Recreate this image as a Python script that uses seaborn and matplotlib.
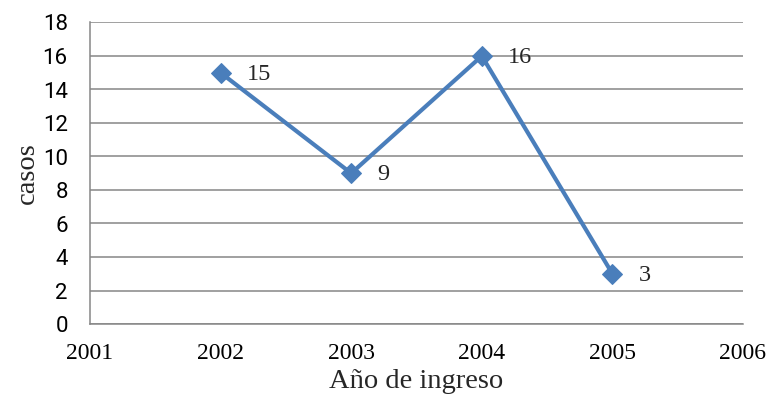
import matplotlib
matplotlib.use("Agg")
import matplotlib.pyplot as plt
import seaborn as sns
import pandas as pd

years = [2002, 2003, 2004, 2005]
cases = [15, 9, 16, 3]
x_ticks = [2001, 2002, 2003, 2004, 2005, 2006]
y_ticks = [0, 2, 4, 6, 8, 10, 12, 14, 16, 18]

df = pd.DataFrame({"year": years, "cases": cases})

sns.set_style("white")
fig = plt.figure(figsize=(7.72, 4.11), dpi=100)
ax = fig.add_axes([90 / 772, 1 - 324 / 411, 653 / 772, 301.5 / 411])

line_color = "#4A7EBB"
sns.lineplot(data=df, x="year", y="cases", ax=ax, color=line_color, linewidth=3,
             marker="D", markersize=10, markeredgecolor=line_color, markerfacecolor=line_color)

for x, y in zip(years, cases):
    ax.annotate(str(y), (x, y), xytext=(19, -1), textcoords="offset points",
                va="center", ha="left", fontsize=17.5, family="Liberation Serif")

ax.set_xlim(2001, 2006)
ax.set_ylim(0, 18)
ax.set_xticks(x_ticks)
ax.set_yticks(y_ticks)
ax.set_xticklabels([str(t) for t in x_ticks], fontsize=17, family="Liberation Serif")
ax.set_yticklabels([str(t) for t in y_ticks], fontsize=16, family="Roboto")
ax.grid(axis="y", color="#868686", linewidth=1.1)
ax.grid(axis="x", visible=False)
ax.set_axisbelow(True)
for s in ["top", "right"]:
    ax.spines[s].set_visible(False)
for s in ["left", "bottom"]:
    ax.spines[s].set_color("#868686")
    ax.spines[s].set_linewidth(1.1)
ax.tick_params(axis="y", which="major", direction="out", length=6, width=1.1,
               color="#868686", pad=10, labelcolor="black")
ax.tick_params(axis="x", which="major", direction="out", length=5.5, width=1.1,
               color="#868686", pad=8, labelcolor="black")
ax.set_xlabel("Año de ingreso", fontsize=20.5, family="Liberation Serif", labelpad=4)
ax.set_ylabel("casos", fontsize=20.5, family="Liberation Serif", labelpad=2)

fig.savefig("out.png", dpi=100)
